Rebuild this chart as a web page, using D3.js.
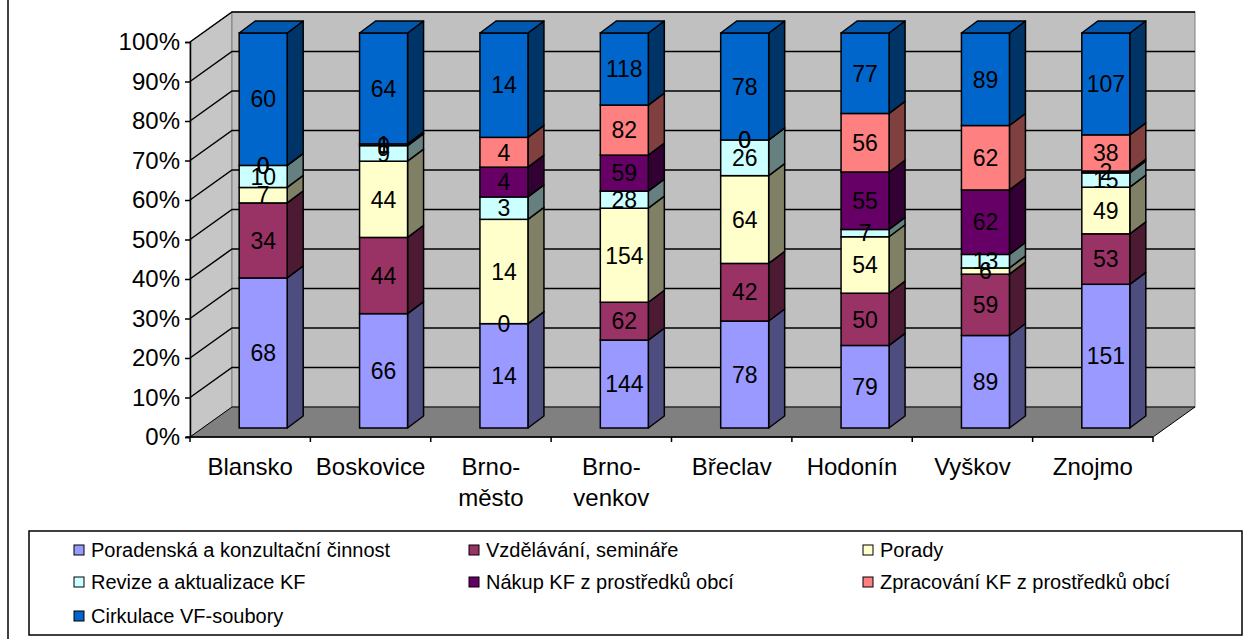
<!DOCTYPE html>
<html>
<head>
<meta charset="utf-8">
<script src="https://cdn.jsdelivr.net/npm/d3@7"></script>
<style>
  body { margin: 0; background: #fff; }
  svg text { font-family: "Liberation Sans", Arial, sans-serif; }
</style>
</head>
<body>
<svg id="chart" width="1253" height="639"></svg>
<script>
// categories (districts)
var categories = ["Blansko", "Boskovice", "Brno-město", "Brno-venkov", "Břeclav", "Hodonín", "Vyškov", "Znojmo"];

// series values, one array per activity
var poradenska = [68, 66, 14, 144, 78, 79, 89, 151];
var vzdelavani = [34, 44, 0, 62, 42, 50, 59, 53];
var porady     = [7, 44, 14, 154, 64, 54, 6, 49];
var revize     = [10, 9, 3, 28, 26, 7, 13, 15];
var nakup      = [0, 0, 4, 59, 0, 55, 62, 2];
var zpracovani = [0, 1, 4, 82, 0, 56, 62, 38];
var cirkulace  = [60, 64, 14, 118, 78, 77, 89, 107];

var seriesNames = ["Poradenská a konzultační činnost", "Vzdělávání, semináře", "Porady",
                   "Revize a aktualizace KF", "Nákup KF z prostředků obcí",
                   "Zpracování KF z prostředků obcí", "Cirkulace VF-soubory"];
var seriesColors = ["#9999ff", "#993366", "#ffffcc", "#ccffff", "#660066", "#ff8080", "#0066cc"];

var yTicks = [0, 0.1, 0.2, 0.3, 0.4, 0.5, 0.6, 0.7, 0.8, 0.9, 1];

var allSeries = [poradenska, vzdelavani, porady, revize, nakup, zpracovani, cirkulace];

var svg = d3.select("#chart");

// outer frame of the chart area
svg.append("rect")
   .attr("x", 8).attr("y", -5)
   .attr("width", 1300).attr("height", 700)
   .attr("fill", "#fff").attr("stroke", "#000").attr("stroke-width", 1.5);

// front plane scales
var x = d3.scaleBand().domain(categories).range([190, 1153]);
var y = d3.scaleLinear().domain([0, 1]).range([437, 42]);

// depth of the floor / walls, and of the bars
var wallDx = 42, wallDy = -30;
var barOffX = 13, barOffY = -9;
var barW = 48, barDx = 16, barDy = -12;

// left wall
svg.append("polygon")
   .attr("points", [[190, y(0)], [190, y(1)], [190 + wallDx, y(1) + wallDy], [190 + wallDx, y(0) + wallDy]].join(" "))
   .attr("fill", "#c6c6c6").attr("stroke", "#808080");

// back wall
svg.append("rect")
   .attr("x", 190 + wallDx).attr("y", y(1) + wallDy)
   .attr("width", 1153 - 190).attr("height", y(0) - y(1))
   .attr("fill", "#c0c0c0").attr("stroke", "#808080");

// floor
svg.append("polygon")
   .attr("points", [[190, y(0)], [1153, y(0)], [1153 + wallDx, y(0) + wallDy], [190 + wallDx, y(0) + wallDy]].join(" "))
   .attr("fill", "#808080").attr("stroke", "#000").attr("stroke-width", 1);

// gridlines on the walls
yTicks.forEach(function(t) {
	if (t === 0) return;
	var yy = y(t);
	svg.append("path")
	   .attr("d", "M190," + yy + "L" + (190 + wallDx) + "," + (yy + wallDy) + "L" + (1153 + wallDx) + "," + (yy + wallDy))
	   .attr("fill", "none").attr("stroke", "#000").attr("stroke-width", 1.5);
});

// y axis
var yAxis = d3.axisLeft(y).tickValues(yTicks).tickFormat(d3.format(".0%")).tickSize(5).tickPadding(5);
var gy = svg.append("g").attr("transform", "translate(190,0)").call(yAxis);
gy.select(".domain").attr("stroke", "#000").attr("stroke-width", 1.5);
gy.selectAll(".tick line").attr("stroke", "#000").attr("stroke-width", 1.5);
gy.selectAll("text").attr("font-size", 24).attr("fill", "#000")
  .style("font-family", "'Liberation Sans', Arial, sans-serif");

// x axis line and ticks
svg.append("line").attr("x1", 186).attr("x2", 1153).attr("y1", y(0)).attr("y2", y(0))
   .attr("stroke", "#000").attr("stroke-width", 1.5);
d3.range(categories.length + 1).forEach(function(i) {
	var xx = 190 + i * x.bandwidth();
	svg.append("line").attr("x1", xx).attr("x2", xx).attr("y1", y(0)).attr("y2", y(0) + 5)
	   .attr("stroke", "#000").attr("stroke-width", 1.5);
});

// category labels (wrap after the hyphen)
categories.forEach(function(c) {
	var parts = c.indexOf("-") > 0 ? [c.slice(0, c.indexOf("-") + 1), c.slice(c.indexOf("-") + 1)] : [c];
	var t = svg.append("text")
	           .attr("x", x(c) + x.bandwidth() / 2)
	           .attr("y", 475)
	           .attr("text-anchor", "middle")
	           .attr("font-size", 24);
	parts.forEach(function(p, i) {
		t.append("tspan").attr("x", x(c) + x.bandwidth() / 2).attr("dy", i === 0 ? 0 : 31).text(p);
	});
});

// stacked 3D bars
var sideColor = function(col) {
	var c = d3.rgb(col);
	return d3.rgb(c.r * 0.5, c.g * 0.5, c.b * 0.5).toString();
};

categories.forEach(function(c, ci) {
	var total = d3.sum(allSeries, function(s) { return s[ci]; });
	var x0 = x(c) + x.bandwidth() / 2 - barW / 2 + barOffX;
	var x1 = x0 + barW;
	var acc = 0;
	var labels = [];
	allSeries.forEach(function(s, si) {
		var v = s[ci];
		var yb = y(acc / total) + barOffY;
		acc += v;
		var yt = y(acc / total) + barOffY;
		var col = seriesColors[si];
		// side face
		svg.append("polygon")
		   .attr("points", [[x1, yb], [x1 + barDx, yb + barDy], [x1 + barDx, yt + barDy], [x1, yt]].join(" "))
		   .attr("fill", sideColor(col)).attr("stroke", "#000").attr("stroke-width", 1.5)
		   .attr("stroke-linejoin", "round");
		// front face
		svg.append("rect")
		   .attr("x", x0).attr("y", yt).attr("width", barW).attr("height", Math.max(0, yb - yt))
		   .attr("fill", col).attr("stroke", "#000").attr("stroke-width", 1.5);
		labels.push({ v: v, y: (yb + yt) / 2 });
	});
	// top face of the topmost segment
	var top = y(1) + barOffY;
	var topCol = seriesColors[seriesColors.length - 1];
	svg.append("polygon")
	   .attr("points", [[x0, top], [x0 + barDx, top + barDy], [x1 + barDx, top + barDy], [x1, top]].join(" "))
	   .attr("fill", d3.rgb(topCol).darker(0.45).toString()).attr("stroke", "#000").attr("stroke-width", 1.5)
	   .attr("stroke-linejoin", "round");
	// value labels
	labels.forEach(function(l) {
		svg.append("text")
		   .attr("x", (x0 + x1) / 2).attr("y", l.y).attr("dy", "0.36em")
		   .attr("text-anchor", "middle").attr("font-size", 23).attr("fill", "#000")
		   .text(l.v);
	});
});

// legend
var legend = svg.append("g");
legend.append("rect").attr("x", 29).attr("y", 531).attr("width", 1213).attr("height", 104)
      .attr("fill", "#fff").attr("stroke", "#000").attr("stroke-width", 1.5);
var colX = [74, 469, 863];
var rowY = [550, 582, 616];
seriesNames.forEach(function(n, i) {
	var cx = colX[i % 3], cy = rowY[Math.floor(i / 3)];
	legend.append("rect").attr("x", cx).attr("y", cy - 5).attr("width", 10).attr("height", 10)
	      .attr("fill", seriesColors[i]).attr("stroke", "#000").attr("stroke-width", 1);
	legend.append("text").attr("x", cx + 17).attr("y", cy).attr("dy", "0.36em")
	      .attr("font-size", 20).attr("fill", "#000").text(n);
});
</script>
</body>
</html>
